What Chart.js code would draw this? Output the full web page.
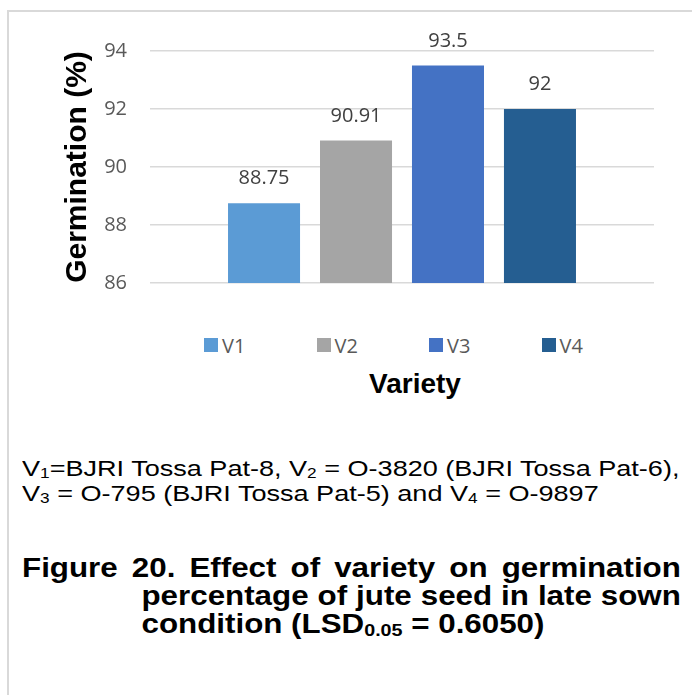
<!DOCTYPE html>
<html>
<head>
<meta charset="utf-8">
<script src="https://cdn.jsdelivr.net/npm/chart.js@4.4.0/dist/chart.umd.min.js"></script>
<style>
  body { margin: 0; background: #fff; width: 692px; height: 695px; position: relative; overflow: hidden; font-family: "Liberation Sans", Arial, sans-serif; }
  .frame { position: absolute; left: 7px; top: 10px; right: -10px; bottom: -10px; border-left: 2px solid #d9d9d9; border-top: 2px solid #d9d9d9; }
  #myChart { position: absolute; left: 0; top: 0; width: 692px; height: 318px; }
  #legend { position: absolute; left: 204px; top: 336px; display: flex; font-family: "Open Sans", sans-serif; font-size: 20px; color: #595959; }
  #legend .item { width: 112.5px; height: 18px; display: flex; align-items: center; }
  #legend .swatch { width: 14px; height: 14px; margin-right: 4px; }
  .xtitle { position: absolute; left: 315px; top: 370px; width: 200px; text-align: center; font-weight: bold; font-size: 28px; line-height: 28px; color: #000; }
  .note { position: absolute; left: 22px; font-size: 22px; line-height: 25px; height: 25px; white-space: nowrap; transform: scaleX(1.23); transform-origin: 0 0; color: #000; }
  .note .s { font-size: 14px; line-height: 0; vertical-align: -2px; }
  .cap { position: absolute; left: 22px; top: 554px; font-size: 27px; font-weight: bold; line-height: 28px; transform: scaleX(1.16); transform-origin: 0 0; color: #000; }
  .cap div { white-space: nowrap; }
  .cap .j { text-align: justify; text-align-last: justify; white-space: normal; }
  .cap .s { font-size: 17px; line-height: 0; vertical-align: -3px; }
</style>
</head>
<body>
<div class="frame"></div>
<canvas id="myChart" width="692" height="318"></canvas>
<div id="legend"></div>
<div class="xtitle">Variety</div>

<div class="note" style="top:456px">V<span class="s">1</span>=BJRI Tossa Pat-8, V<span class="s">2</span> = O-3820 (BJRI Tossa Pat-6),</div>
<div class="note" style="top:481px">V<span class="s">3</span> = O-795 (BJRI Tossa Pat-5) and V<span class="s">4</span> = O-9897</div>

<div class="cap">
  <div class="j" style="width:568px">Figure 20. Effect of variety on germination</div>
  <div class="j" style="width:465px; margin-left:103px">percentage of jute seed in late sown</div>
  <div style="margin-left:103px">condition (LSD<span class="s">0.05</span> = 0.6050)</div>
</div>

<script>
// germination by variety
const varieties = ['V1', 'V2', 'V3', 'V4'];
const germination = [88.75, 90.91, 93.5, 92];
const yTicks = [86, 88, 90, 92, 94];
const barColors = ['#5b9bd5', '#a5a5a5', '#4472c4', '#255e91'];

// value labels above bars
const valueLabels = {
  id: 'valueLabels',
  afterDatasetsDraw(chart) {
    const ctx = chart.ctx;
    ctx.save();
    ctx.font = '20px "Open Sans"';
    ctx.fillStyle = '#404040';
    ctx.textAlign = 'center';
    ctx.textBaseline = 'alphabetic';
    chart.data.datasets.forEach((ds, i) => {
      chart.getDatasetMeta(i).data.forEach((bar, j) => {
        ctx.fillText(String(ds.data[j]), bar.x, bar.y - 19);
      });
    });
    ctx.restore();
  }
};

const config = {
  type: 'bar',
  data: {
    labels: [''],
    datasets: varieties.map((v, i) => ({
      label: v,
      data: [germination[i]],
      backgroundColor: barColors[i],
      categoryPercentage: 0.73,
      barPercentage: 0.783
    }))
  },
  options: {
    responsive: false,
    animation: false,
    layout: { padding: { top: 51, bottom: 17, left: 0, right: 38 } },
    plugins: {
      legend: { display: false },
      tooltip: { enabled: false }
    },
    scales: {
      x: { display: false },
      y: {
        min: yTicks[0],
        max: yTicks[yTicks.length - 1],
        ticks: {
          stepSize: 2,
          padding: 23,
          color: '#595959',
          font: { family: 'Open Sans', size: 20 }
        },
        grid: { color: '#d9d9d9', lineWidth: 1.5, drawTicks: false },
        border: { display: false },
        title: {
          display: true,
          text: 'Germination (%)',
          color: '#000',
          font: { family: 'Liberation Sans', size: 30, weight: 'bold' },
          padding: { top: 60, bottom: 0 }
        },
        afterFit(scale) { scale.width = 150; }
      }
    }
  },
  plugins: [valueLabels]
};

const ctx = document.getElementById('myChart');
const myChart = new Chart(ctx, config);

// legend from the same series
const legend = document.getElementById('legend');
varieties.forEach((v, i) => {
  const item = document.createElement('div');
  item.className = 'item';
  const sw = document.createElement('span');
  sw.className = 'swatch';
  sw.style.background = barColors[i];
  const txt = document.createElement('span');
  txt.textContent = v;
  item.appendChild(sw);
  item.appendChild(txt);
  legend.appendChild(item);
});
</script>
</body>
</html>
